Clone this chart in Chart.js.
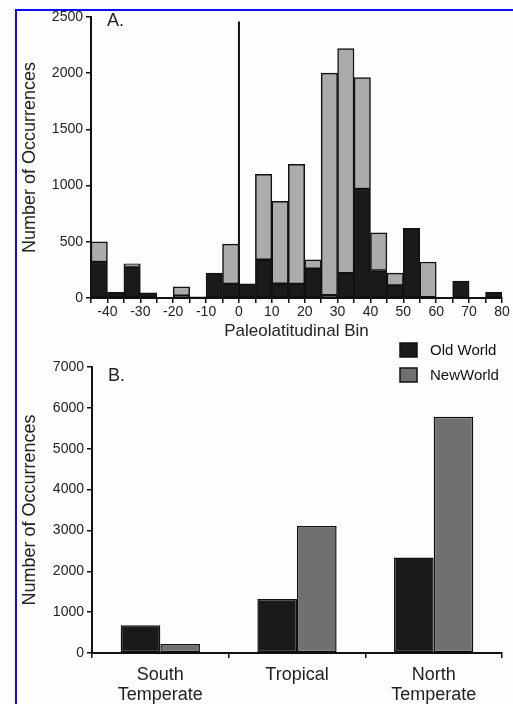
<!DOCTYPE html>
<html>
<head>
<meta charset="utf-8">
<script src="https://cdn.jsdelivr.net/npm/chart.js@4"></script>
<style>
  html, body { margin: 0; padding: 0; background: #fdfdfd; }
  body { width: 513px; height: 704px; position: relative; overflow: hidden; }
  #frame { position: absolute; left: 15px; top: 9px; width: 500px; height: 700px;
           border-left: 2px solid #0a0af0; border-top: 2px solid #0a0af0; }
  #c1 { position: absolute; left: 0; top: 0; }
  #c2 { position: absolute; left: 0; top: 330px; }
</style>
</head>
<body>
<div id="frame"></div>
<canvas id="c1" width="513" height="340"></canvas>
<canvas id="c2" width="513" height="374"></canvas>
<script>
// ---- Panel A data: paleolatitudinal bins (lower edge of each 5-degree bin) ----
const binStarts = [-45,-40,-35,-30,-25,-20,-15,-10,-5,0,5,10,15,20,25,30,35,40,45,50,55,60,65,70,75];
const oldWorldBins = [320,50,280,45,0,20,10,222,125,125,340,128,125,260,25,222,970,245,113,620,0,0,150,0,50];
const newWorldBins = [180,0,25,0,0,80,0,0,355,0,760,732,1065,80,1975,1998,990,335,109,0,320,0,0,0,0];
const equatorLine = [0, 2460];   // vertical reference line at latitude 0 (from 0 up to this count)
const xTickLabelsA = [-40,-30,-20,-10,0,10,20,30,40,50,60,70,80];

// ---- Panel B data: climate zones ----
const zones = [["South","Temperate"],["Tropical"],["North","Temperate"]];
const oldWorldZones = [680,1320,2340];
const newWorldZones = [220,3110,5780];
const seriesNames = ["Old World","NewWorld"];

const FONT = "'Liberation Sans', Arial, Helvetica, sans-serif";
const BLACK = "#1a1a1a";

const panelLabel = {
  id: 'panelLabel',
  afterDraw(chart, args, opts) {
    const ctx = chart.ctx, a = chart.chartArea;
    ctx.save();
    ctx.font = "18px " + FONT;
    ctx.fillStyle = "#222";
    ctx.textBaseline = "alphabetic";
    ctx.fillText(opts.text, a.left + opts.dx, a.top + opts.dy);
    ctx.restore();
  }
};

const boxLegend = {
  id: 'boxLegend',
  afterDraw(chart, args, opts) {
    if (!opts.show) return;
    const ctx = chart.ctx;
    ctx.save();
    ctx.font = "15px " + FONT;
    ctx.textBaseline = "middle";
    chart.data.datasets.forEach((ds, i) => {
      const y = opts.y + i * opts.gap;
      ctx.fillStyle = ds.backgroundColor;
      ctx.fillRect(opts.x, y, 17, 14);
      ctx.strokeStyle = "#111";
      ctx.lineWidth = 1.5;
      ctx.strokeRect(opts.x, y, 17, 14);
      ctx.fillStyle = "#111";
      ctx.fillText(ds.label, opts.x + 30, y + 8);
    });
    ctx.restore();
  }
};

const binCenters = binStarts.map(b => b + 2.5);
const plain = v => String(v);

new Chart(document.getElementById('c1'), {
  data: {
    datasets: [
      { type: 'bar', label: seriesNames[0], data: binCenters.map((x, i) => ({x, y: oldWorldBins[i]})),
        backgroundColor: BLACK, borderColor: "#111", borderWidth: 1.5, borderSkipped: false,
        categoryPercentage: 1, barPercentage: 1, stack: 'bins' },
      { type: 'bar', label: seriesNames[1], data: binCenters.map((x, i) => ({x, y: newWorldBins[i]})),
        backgroundColor: "#ababab", borderColor: "#111", borderWidth: 1.5, borderSkipped: false,
        categoryPercentage: 1, barPercentage: 1, stack: 'bins' },
      { type: 'line', label: 'equator', data: equatorLine.map(v => ({x: 0, y: v})),
        borderColor: "#111", borderWidth: 2, pointRadius: 0, stack: 'line', fill: false }
    ]
  },
  options: {
    responsive: false, animation: false,
    layout: { padding: { left: 0, right: 11, top: 17, bottom: 0 } },
    plugins: {
      legend: { display: false }, tooltip: { enabled: false },
      panelLabel: { text: "A.", dx: 16, dy: 9 },
      boxLegend: { show: false }
    },
    scales: {
      x: {
        type: 'linear', stacked: true, min: -45, max: 80, offset: false,
        grid: { offset: false, drawOnChartArea: false, drawTicks: true, tickLength: 5, color: "#111", lineWidth: 1.5 },
        border: { display: true, color: "#111", width: 2 },
        ticks: { stepSize: 5, autoSkip: false, maxRotation: 0, padding: 1, color: "#222",
                 font: { family: FONT, size: 14 },
                 callback: v => xTickLabelsA.includes(v) ? String(v) : '' },
        title: { display: true, text: "Paleolatitudinal Bin", color: "#222",
                 font: { family: FONT, size: 17, lineHeight: 1 }, padding: { top: 0, bottom: 0 } },
        afterFit: s => { s.height = 42; }
      },
      y: {
        stacked: true, min: 0, max: 2500,
        grid: { drawOnChartArea: false, drawTicks: true, tickLength: 5, color: "#111", lineWidth: 1.5 },
        border: { display: true, color: "#111", width: 2 },
        ticks: { stepSize: 500, padding: 3, color: "#222", font: { family: FONT, size: 14 }, callback: plain },
        title: { display: true, text: "Number of Occurrences", color: "#222",
                 font: { family: FONT, size: 18, lineHeight: 1 }, padding: { top: 21, bottom: 0 } },
        afterFit: s => { s.width = 91; }
      }
    }
  },
  plugins: [panelLabel, boxLegend]
});

new Chart(document.getElementById('c2'), {
  type: 'bar',
  data: {
    labels: zones,
    datasets: [
      { label: seriesNames[0], data: oldWorldZones, backgroundColor: BLACK, borderColor: "#111",
        borderWidth: 1.5, borderSkipped: false, categoryPercentage: 0.58, barPercentage: 1 },
      { label: seriesNames[1], data: newWorldZones, backgroundColor: "#707070", borderColor: "#111",
        borderWidth: 1.5, borderSkipped: false, categoryPercentage: 0.58, barPercentage: 1 }
    ]
  },
  options: {
    responsive: false, animation: false,
    layout: { padding: { left: 0, right: 11, top: 37, bottom: 0 } },
    plugins: {
      legend: { display: false }, tooltip: { enabled: false },
      panelLabel: { text: "B.", dx: 16, dy: 14 },
      boxLegend: { show: true, x: 400, y: 13, gap: 25 }
    },
    scales: {
      x: {
        grid: { offset: true, drawOnChartArea: false, drawTicks: true, tickLength: 5, color: "#111", lineWidth: 1.5 },
        border: { display: true, color: "#111", width: 2 },
        ticks: { maxRotation: 0, padding: 7, color: "#222", font: { family: FONT, size: 18, lineHeight: 1.1 } },
        afterFit: s => { s.height = 51; }
      },
      y: {
        min: 0, max: 7000,
        grid: { drawOnChartArea: false, drawTicks: true, tickLength: 5, color: "#111", lineWidth: 1.5 },
        border: { display: true, color: "#111", width: 2 },
        ticks: { stepSize: 1000, padding: 3, color: "#222", font: { family: FONT, size: 14 }, callback: plain },
        title: { display: true, text: "Number of Occurrences", color: "#222",
                 font: { family: FONT, size: 18, lineHeight: 1 }, padding: { top: 21, bottom: 0 } },
        afterFit: s => { s.width = 92; }
      }
    }
  },
  plugins: [panelLabel, boxLegend]
});
</script>
</body>
</html>
